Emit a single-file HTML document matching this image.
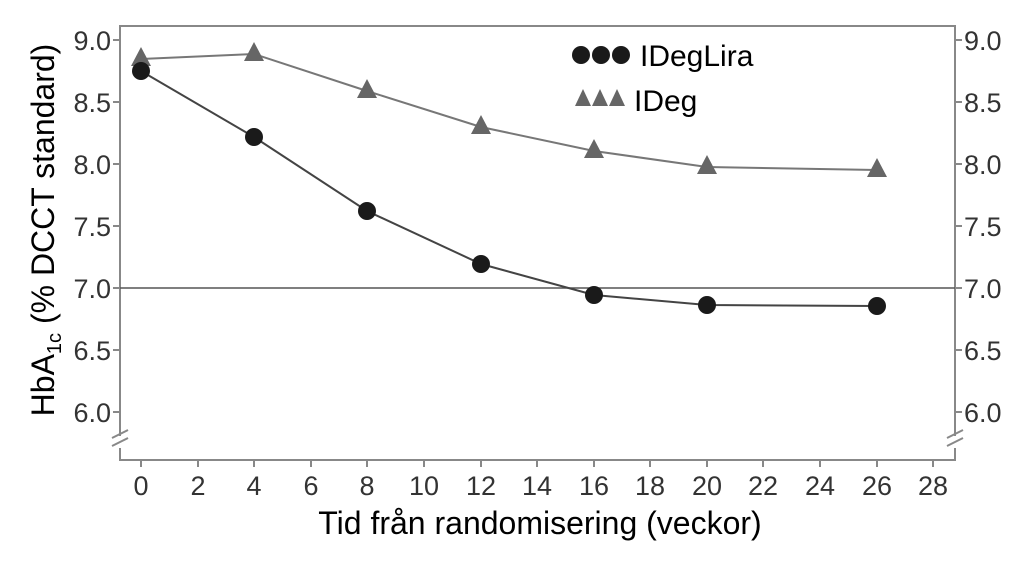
<!DOCTYPE html>
<html><head><meta charset="utf-8"><style>body{margin:0;background:#fff}svg{display:block}</style></head><body>
<svg width="1034" height="564" xmlns="http://www.w3.org/2000/svg" font-family="Liberation Sans, sans-serif">
<rect width="1034" height="564" fill="#fff"/>
<g stroke="#888" stroke-width="2" fill="none">
<polyline points="120,436 120,26 955,26 955,436"/>
<polyline points="120,448 120,460 955,460 955,448"/>
<line x1="112" y1="438" x2="128" y2="430"/><line x1="112" y1="446" x2="128" y2="438"/>
<line x1="947" y1="438" x2="963" y2="430"/><line x1="947" y1="446" x2="963" y2="438"/>
</g>
<g stroke="#888" stroke-width="2">
<line x1="113" y1="40" x2="120" y2="40"/><line x1="113" y1="102" x2="120" y2="102"/><line x1="113" y1="164" x2="120" y2="164"/><line x1="113" y1="226" x2="120" y2="226"/><line x1="113" y1="288" x2="120" y2="288"/><line x1="113" y1="350" x2="120" y2="350"/><line x1="113" y1="412" x2="120" y2="412"/>
<line x1="955" y1="40" x2="962" y2="40"/><line x1="955" y1="102" x2="962" y2="102"/><line x1="955" y1="164" x2="962" y2="164"/><line x1="955" y1="226" x2="962" y2="226"/><line x1="955" y1="288" x2="962" y2="288"/><line x1="955" y1="350" x2="962" y2="350"/><line x1="955" y1="412" x2="962" y2="412"/>
</g>
<g font-size="27" fill="#333" text-anchor="end">
<text x="111" y="50">9.0</text><text x="111" y="112">8.5</text><text x="111" y="174">8.0</text><text x="111" y="236">7.5</text><text x="111" y="298">7.0</text><text x="111" y="360">6.5</text><text x="111" y="422">6.0</text>
</g>
<g font-size="27" fill="#333" text-anchor="start">
<text x="964" y="50">9.0</text><text x="964" y="112">8.5</text><text x="964" y="174">8.0</text><text x="964" y="236">7.5</text><text x="964" y="298">7.0</text><text x="964" y="360">6.5</text><text x="964" y="422">6.0</text>
</g>
<g stroke="#888" stroke-width="2">
<line x1="141" y1="460" x2="141" y2="467"/><line x1="198" y1="460" x2="198" y2="467"/><line x1="254" y1="460" x2="254" y2="467"/><line x1="311" y1="460" x2="311" y2="467"/><line x1="367" y1="460" x2="367" y2="467"/><line x1="424" y1="460" x2="424" y2="467"/><line x1="481" y1="460" x2="481" y2="467"/><line x1="537" y1="460" x2="537" y2="467"/><line x1="594" y1="460" x2="594" y2="467"/><line x1="650" y1="460" x2="650" y2="467"/><line x1="707" y1="460" x2="707" y2="467"/><line x1="763" y1="460" x2="763" y2="467"/><line x1="820" y1="460" x2="820" y2="467"/><line x1="877" y1="460" x2="877" y2="467"/><line x1="933" y1="460" x2="933" y2="467"/>
</g>
<g font-size="27" fill="#333" text-anchor="middle">
<text x="141" y="495">0</text><text x="198" y="495">2</text><text x="254" y="495">4</text><text x="311" y="495">6</text><text x="367" y="495">8</text><text x="424" y="495">10</text><text x="481" y="495">12</text><text x="537" y="495">14</text><text x="594" y="495">16</text><text x="650" y="495">18</text><text x="707" y="495">20</text><text x="763" y="495">22</text><text x="820" y="495">24</text><text x="877" y="495">26</text><text x="933" y="495">28</text>
</g>
<line x1="120" y1="288" x2="955" y2="288" stroke="#555" stroke-width="1.5"/>
<polyline fill="none" stroke="#777" stroke-width="2" points="141,59 254,54 367,91 481,127 594,151 707,167 877,170"/>
<g fill="#666">
<polygon points="141,47 131,66 151,66"/><polygon points="254,42 244,61 264,61"/><polygon points="367,79 357,98 377,98"/><polygon points="481,115 471,134 491,134"/><polygon points="594,139 584,158 604,158"/><polygon points="707,155 697,174 717,174"/><polygon points="877,158 867,177 887,177"/>
</g>
<polyline fill="none" stroke="#444" stroke-width="2" points="141,71 254,137 367,211 481,264 594,295 707,305 877,306"/>
<g fill="#1a1a1a">
<circle cx="141" cy="71" r="9"/><circle cx="254" cy="137" r="9"/><circle cx="367" cy="211" r="9"/><circle cx="481" cy="264" r="9"/><circle cx="594" cy="295" r="9"/><circle cx="707" cy="305" r="9"/><circle cx="877" cy="306" r="9"/>
</g>
<g fill="#1a1a1a"><circle cx="581" cy="55" r="9"/><circle cx="601" cy="55" r="9"/><circle cx="621" cy="55" r="9"/></g>
<text x="640" y="66" font-size="30" fill="#000">IDegLira</text>
<g fill="#666"><polygon points="583,89 575,106 591,106"/><polygon points="600,89 592,106 608,106"/><polygon points="617,89 609,106 625,106"/></g>
<text x="634" y="111" font-size="30" fill="#000">IDeg</text>
<text x="540" y="534" font-size="32" fill="#000" text-anchor="middle">Tid från randomisering (veckor)</text>
<text transform="translate(54,230) rotate(-90)" font-size="32" fill="#000" text-anchor="middle">HbA<tspan font-size="20" dy="7">1c</tspan><tspan dy="-7"> (% DCCT standard)</tspan></text>
</svg>
</body></html>
